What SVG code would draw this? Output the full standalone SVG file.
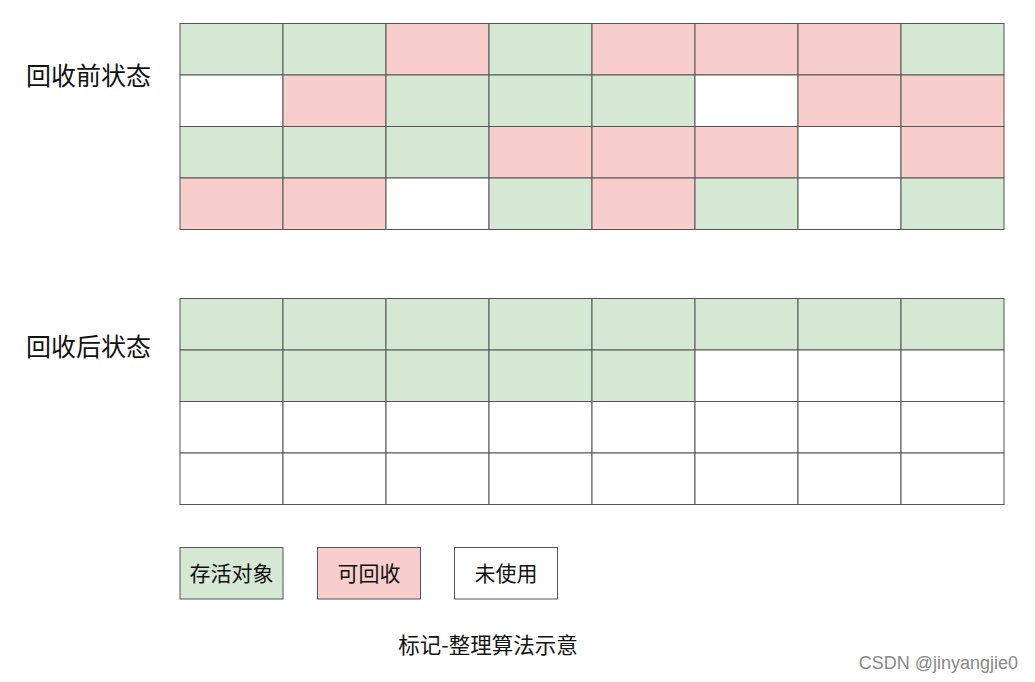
<svg xmlns="http://www.w3.org/2000/svg" width="1035" height="682" viewBox="0 0 1035 682">
<style>
.g{fill:#d5e8d4}.r{fill:#f8cecc}.w{fill:#ffffff}
.c rect{stroke:#555;stroke-width:1}
.lbl{font-family:"Noto Sans CJK SC","Noto Sans",sans-serif;fill:#111}
.big{font-size:25px}
.mid{font-size:21px}
.ttl{font-size:21.5px}
.wm{font-family:"Liberation Sans",Arial,sans-serif;font-size:18px;fill:#888}
</style>
<rect width="1035" height="682" fill="#fff"/>
<g id="label-before"><text class="lbl big" x="26" y="85">回收前状态</text></g>
<g id="label-after"><text class="lbl big" x="26" y="356">回收后状态</text></g>
<g id="grid-before" class="c">
<rect class="g" x="180" y="23.5" width="103" height="51.5"/>
<rect class="g" x="283" y="23.5" width="103" height="51.5"/>
<rect class="r" x="386" y="23.5" width="103" height="51.5"/>
<rect class="g" x="489" y="23.5" width="103" height="51.5"/>
<rect class="r" x="592" y="23.5" width="103" height="51.5"/>
<rect class="r" x="695" y="23.5" width="103" height="51.5"/>
<rect class="r" x="798" y="23.5" width="103" height="51.5"/>
<rect class="g" x="901" y="23.5" width="103" height="51.5"/>
<rect class="w" x="180" y="75" width="103" height="51.5"/>
<rect class="r" x="283" y="75" width="103" height="51.5"/>
<rect class="g" x="386" y="75" width="103" height="51.5"/>
<rect class="g" x="489" y="75" width="103" height="51.5"/>
<rect class="g" x="592" y="75" width="103" height="51.5"/>
<rect class="w" x="695" y="75" width="103" height="51.5"/>
<rect class="r" x="798" y="75" width="103" height="51.5"/>
<rect class="r" x="901" y="75" width="103" height="51.5"/>
<rect class="g" x="180" y="126.5" width="103" height="51.5"/>
<rect class="g" x="283" y="126.5" width="103" height="51.5"/>
<rect class="g" x="386" y="126.5" width="103" height="51.5"/>
<rect class="r" x="489" y="126.5" width="103" height="51.5"/>
<rect class="r" x="592" y="126.5" width="103" height="51.5"/>
<rect class="r" x="695" y="126.5" width="103" height="51.5"/>
<rect class="w" x="798" y="126.5" width="103" height="51.5"/>
<rect class="r" x="901" y="126.5" width="103" height="51.5"/>
<rect class="r" x="180" y="178" width="103" height="51.5"/>
<rect class="r" x="283" y="178" width="103" height="51.5"/>
<rect class="w" x="386" y="178" width="103" height="51.5"/>
<rect class="g" x="489" y="178" width="103" height="51.5"/>
<rect class="r" x="592" y="178" width="103" height="51.5"/>
<rect class="g" x="695" y="178" width="103" height="51.5"/>
<rect class="w" x="798" y="178" width="103" height="51.5"/>
<rect class="g" x="901" y="178" width="103" height="51.5"/>
</g>
<g id="grid-after" class="c">
<rect class="g" x="180" y="298.5" width="103" height="51.5"/>
<rect class="g" x="283" y="298.5" width="103" height="51.5"/>
<rect class="g" x="386" y="298.5" width="103" height="51.5"/>
<rect class="g" x="489" y="298.5" width="103" height="51.5"/>
<rect class="g" x="592" y="298.5" width="103" height="51.5"/>
<rect class="g" x="695" y="298.5" width="103" height="51.5"/>
<rect class="g" x="798" y="298.5" width="103" height="51.5"/>
<rect class="g" x="901" y="298.5" width="103" height="51.5"/>
<rect class="g" x="180" y="350" width="103" height="51.5"/>
<rect class="g" x="283" y="350" width="103" height="51.5"/>
<rect class="g" x="386" y="350" width="103" height="51.5"/>
<rect class="g" x="489" y="350" width="103" height="51.5"/>
<rect class="g" x="592" y="350" width="103" height="51.5"/>
<rect class="w" x="695" y="350" width="103" height="51.5"/>
<rect class="w" x="798" y="350" width="103" height="51.5"/>
<rect class="w" x="901" y="350" width="103" height="51.5"/>
<rect class="w" x="180" y="401.5" width="103" height="51.5"/>
<rect class="w" x="283" y="401.5" width="103" height="51.5"/>
<rect class="w" x="386" y="401.5" width="103" height="51.5"/>
<rect class="w" x="489" y="401.5" width="103" height="51.5"/>
<rect class="w" x="592" y="401.5" width="103" height="51.5"/>
<rect class="w" x="695" y="401.5" width="103" height="51.5"/>
<rect class="w" x="798" y="401.5" width="103" height="51.5"/>
<rect class="w" x="901" y="401.5" width="103" height="51.5"/>
<rect class="w" x="180" y="453" width="103" height="51.5"/>
<rect class="w" x="283" y="453" width="103" height="51.5"/>
<rect class="w" x="386" y="453" width="103" height="51.5"/>
<rect class="w" x="489" y="453" width="103" height="51.5"/>
<rect class="w" x="592" y="453" width="103" height="51.5"/>
<rect class="w" x="695" y="453" width="103" height="51.5"/>
<rect class="w" x="798" y="453" width="103" height="51.5"/>
<rect class="w" x="901" y="453" width="103" height="51.5"/>
</g>
<g id="legend-live" class="c"><rect class="g" x="180" y="547.5" width="103" height="51.5"/><text class="lbl mid" x="231.5" y="580.5" text-anchor="middle">存活对象</text></g>
<g id="legend-reclaim" class="c"><rect class="r" x="317.5" y="547.5" width="103" height="51.5"/><text class="lbl mid" x="369" y="580.5" text-anchor="middle">可回收</text></g>
<g id="legend-unused" class="c"><rect class="w" x="454.5" y="547.5" width="103" height="51.5"/><text class="lbl mid" x="506" y="580.5" text-anchor="middle">未使用</text></g>
<g id="title"><text class="lbl ttl" x="488" y="653" text-anchor="middle">标记-整理算法示意</text></g>
<g id="connectors"></g>
<text class="wm" x="1018" y="669" text-anchor="end">CSDN @jinyangjie0</text>
</svg>
